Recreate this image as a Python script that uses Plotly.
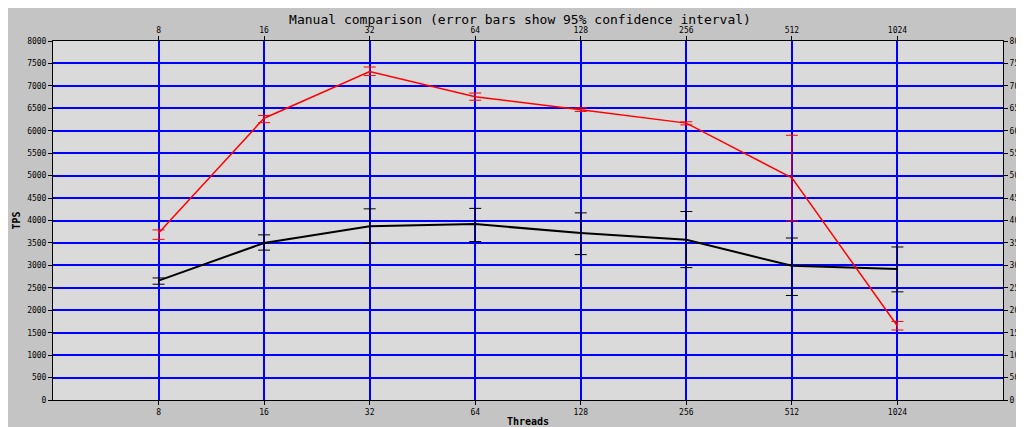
import plotly.graph_objects as go

threads = ["8", "16", "32", "64", "128", "256", "512", "1024"]
red = [3720, 6280, 7320, 6760, 6470, 6170, 4950, 1650]
red_hi = [3790, 6340, 7420, 6840, 6510, 6200, 5900, 1750]
red_lo = [3580, 6180, 7230, 6680, 6430, 6130, 3990, 1560]
black = [2660, 3500, 3870, 3920, 3720, 3570, 2990, 2920]
black_hi = [2720, 3680, 4260, 4270, 4170, 4200, 3610, 3410]
black_lo = [2580, 3340, 3490, 3530, 3240, 2950, 2330, 2410]
yticks = list(range(0, 8001, 500))

x = list(range(len(threads)))
fig = go.Figure()
def add(vals, hi, lo, color, width):
    fig.add_trace(go.Scatter(
        x=x, y=vals, mode="lines", line=dict(color=color, width=width),
        error_y=dict(type="data", symmetric=False,
                     array=[h - v for h, v in zip(hi, vals)],
                     arrayminus=[v - l for v, l in zip(vals, lo)],
                     color=color, thickness=1, width=6),
        showlegend=False))
add(black, black_hi, black_lo, "black", 2)
add(red, red_hi, red_lo, "red", 1.5)
fig.add_trace(go.Scatter(x=[0], y=[0], xaxis="x2", yaxis="y2", mode="markers",
                         marker=dict(opacity=0), showlegend=False, hoverinfo="skip"))

font = dict(family="DejaVu Sans Mono", size=8, color="black")
ax = dict(range=[-1, 8], tickvals=x, ticktext=threads, showgrid=True,
          gridcolor="blue", gridwidth=2, zeroline=False, ticks="outside",
          ticklen=4, tickcolor="black", showline=True, linecolor="black",
          tickfont=font, automargin=False)
ay = dict(range=[0, 8000], tickvals=yticks, showgrid=True, gridcolor="blue",
          gridwidth=1.5, zeroline=False, ticks="outside", ticklen=4,
          tickcolor="black", showline=True, linecolor="black", tickfont=font,
          automargin=False)
tfont = dict(family="DejaVu Sans Mono", size=10, color="black")
fig.update_layout(
    width=1024, height=427,
    paper_bgcolor="#c4c4c4", plot_bgcolor="#dadada",
    margin=dict(l=45, r=29, t=33, b=35, autoexpand=False),
    title=dict(text="Manual comparison (error bars show 95% confidence interval)",
               x=0.5, y=0.985, xanchor="center", yanchor="top",
               font=dict(family="DejaVu Sans Mono", size=13, color="black")),
    xaxis=dict(**ax, title=dict(text="<b>Threads</b>", font=tfont, standoff=2)),
    yaxis=dict(**ay, title=dict(text="<b>TPS</b>", font=tfont, standoff=4)),
    xaxis2=dict(**{**ax, "showgrid": False}, overlaying="x", side="top"),
    yaxis2=dict(**{**ay, "showgrid": False}, overlaying="y", side="right"),
)
fig.write_html("out.html")
